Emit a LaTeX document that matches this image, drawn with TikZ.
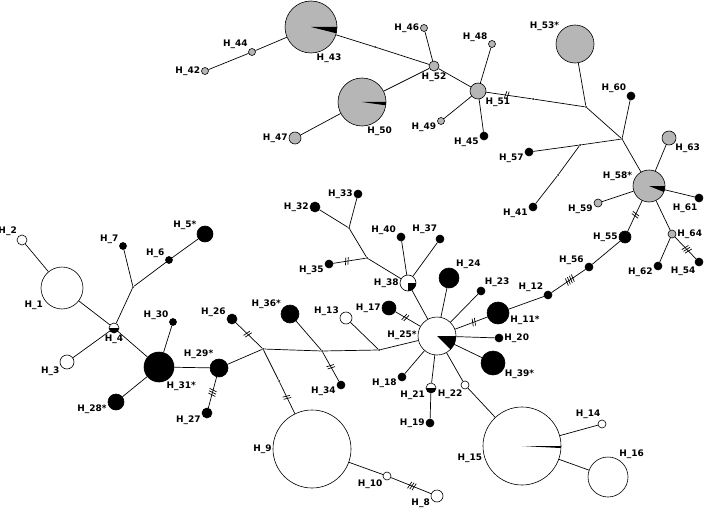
\documentclass[tikz,border=0pt]{standalone}
\usepackage{fontspec}
\setmainfont{DejaVu Sans}
\usetikzlibrary{positioning}

\definecolor{hapgrey}{RGB}{182,182,182}

\tikzset{
  hap/.style={circle, draw=black, line width=0.6pt, inner sep=0pt},
  rad/.style={minimum size=#1*2pt},
  hw/.style={hap, fill=white},
  hb/.style={hap, fill=black},
  hg/.style={hap, fill=hapgrey},
  mv/.style={circle, fill=black, inner sep=0pt, minimum size=2pt},
  lab/.style={font=\fontsize{9}{10.5}\selectfont\bfseries, inner sep=0.8pt},
  pie/.style 2 args={path picture={
    \fill[black] (path picture bounding box.center) -- ++(#1:45pt)
      arc[start angle=#1, end angle=#2, radius=45pt] -- cycle;}},
  cuts/.pic={
    \foreach \k in {1,...,#1}{
      \pgfmathsetmacro\dx{(\k-(#1+1)/2)*2.4}
      \draw[line width=0.7pt] ({(\dx-0.8)*1pt},-3.8pt) -- ({(\dx+0.8)*1pt},3.8pt);
    }
  }
}

\begin{document}
\begin{tikzpicture}[x=1pt, y=-1pt, line width=0.7pt, label distance=0pt]
\useasboundingbox (0,0) rectangle (709,508);

% left group
\node[hw, rad=21, label={[lab]213:H\_1}] (h1) at (62,288) {};
\node[hw, rad=5, label={[lab]140:H\_2}] (h2) at (22,240) {};
\node[hw, rad=7, label={[lab]207:H\_3}] (h3) at (67,362) {};
\node[hw, rad=5, pie={180}{360}, label={[lab]270:H\_4}] (h4) at (114,328) {};
\node[mv] (j1) at (133,287) {};
\node[hb, rad=3.5, label={[lab]155:H\_7}] (h7) at (123,246) {};
\node[hb, rad=3.5, label={[lab]155:H\_6}] (h6) at (169,260) {};
\node[hb, rad=8, label={[lab]155:H\_5*}] (h5) at (205,234) {};
\node[hb, rad=3.5, label={[lab]160:H\_30}] (h30) at (173,322) {};
\node[hb, rad=15, label={[lab]-65:H\_31*}] (h31) at (159,367) {};
\node[hb, rad=8, label={[lab]190:H\_28*}] (h28) at (116,402) {};
\node[hb, rad=9, label={[lab]120:H\_29*}] (h29) at (219,368) {};
\node[hb, rad=5, label={[lab]195:H\_27}] (h27) at (207,413) {};
\node[hb, rad=5, label={[lab]170:H\_26}] (h26) at (232,319) {};

% middle group
\node[mv] (jE) at (263,349) {};
\node[mv] (m1) at (279,381) {};
\node[mv] (jD) at (322,351) {};
\node[mv] (jC) at (379,350) {};
\node[mv] (jA) at (349,228) {};
\node[mv] (jB) at (367,258) {};
\node[hw, rad=39, label={[lab]180:H\_9}] (h9) at (312,449) {};
\node[hw, rad=4, label={[lab]215:H\_10}] (h10) at (387,476) {};
\node[hw, rad=6, label={[lab]195:H\_8}] (h8) at (437,496) {};
\node[hb, rad=9, label={[lab]150:H\_36*}] (h36) at (290,314) {};
\node[hb, rad=4, label={[lab]195:H\_34}] (h34) at (341,385) {};
\node[hw, rad=6, label={[lab]165:H\_13}] (h13) at (346,318) {};
\node[hb, rad=4, label={[lab]178:H\_33}] (h33) at (358,194) {};
\node[hb, rad=5, label={[lab]180:H\_32}] (h32) at (315,207) {};
\node[hb, rad=4, label={[lab]195:H\_35}] (h35) at (329,264) {};
\node[hw, rad=8, pie={-90}{0}, label={[lab]180:H\_38}] (h38) at (408,283) {};
\node[hb, rad=4, label={[lab]160:H\_40}] (h40) at (401,237) {};
\node[hb, rad=4, label={[lab]115:H\_37}] (h37) at (440,239) {};
\node[hw, rad=19, pie={-45}{0}, label={[lab]178:H\_25*}] (h25) at (437,336) {};
\node[hb, rad=10, label={[lab]55:H\_24}] (h24) at (449,278) {};
\node[hb, rad=4, label={[lab]50:H\_23}] (h23) at (481,291) {};
\node[hb, rad=11, label={[lab]-10:H\_11*}] (h11) at (498,313) {};
\node[hb, rad=4, label={[lab]150:H\_12}] (h12) at (548,295) {};
\node[hb, rad=7, label={[lab]180:H\_17}] (h17) at (389,308) {};
\node[hb, rad=4, label={[lab]0:H\_20}] (h20) at (499,338) {};
\node[hb, rad=12, label={[lab]-30:H\_39*}] (h39) at (493,363) {};
\node[hb, rad=4, label={[lab]190:H\_18}] (h18) at (402,377) {};
\node[hw, rad=5, pie={180}{360}, label={[lab]200:H\_21}] (h21) at (431,388) {};
\node[hb, rad=4, label={[lab]180:H\_19}] (h19) at (430,423) {};
\node[hw, rad=4, label={[lab]250:H\_22}] (h22) at (465,385) {};
\node[hw, rad=39, pie={-3}{0}, label={[lab]190:H\_15}] (h15) at (522,446) {};
\node[hw, rad=4, label={[lab]95:H\_14}] (h14) at (602,424) {};
\node[hw, rad=20, label={[lab]60:H\_16}] (h16) at (608,477) {};

% top group
\node[mv] (m4) at (375,47) {};
\node[mv] (m3) at (533,99) {};
\node[mv] (jF) at (586,107) {};
\node[mv] (jG) at (622,139) {};
\node[mv] (jH) at (580,145) {};
\node[mv] (m2) at (558,175) {};
\node[hg, rad=26, pie={-14}{0}, label={[lab]-80:H\_43}] (h43) at (311,27) {};
\node[hg, rad=3.5, label={[lab]147:H\_44}] (h44) at (252,52) {};
\node[hg, rad=3.5, label={[lab]180:H\_42}] (h42) at (205,71) {};
\node[hg, rad=5, label={[lab]270:H\_52}] (h52) at (434,66) {};
\node[hg, rad=3.5, label={[lab]180:H\_46}] (h46) at (424,28) {};
\node[hg, rad=24, pie={-8}{0}, label={[lab]-80:H\_50}] (h50) at (362,102) {};
\node[hg, rad=6, label={[lab]180:H\_47}] (h47) at (295,138) {};
\node[hg, rad=8, label={[lab]-40:H\_51}] (h51) at (478,91) {};
\node[hg, rad=3.5, label={[lab]155:H\_48}] (h48) at (492,44) {};
\node[hg, rad=3.5, label={[lab]185:H\_49}] (h49) at (441,121) {};
\node[hb, rad=4, label={[lab]195:H\_45}] (h45) at (484,136) {};
\node[hb, rad=4, label={[lab]195:H\_57}] (h57) at (529,152) {};
\node[hg, rad=19, label={[lab]140:H\_53*}] (h53) at (575,44) {};
\node[hb, rad=4, label={[lab]150:H\_60}] (h60) at (631,96) {};
\node[hb, rad=4, label={[lab]190:H\_41}] (h41) at (533,207) {};
\node[hg, rad=16, pie={-22}{0}, label={[lab]165:H\_58*}] (h58) at (649,186) {};
\node[hg, rad=7, label={[lab]-45:H\_63}] (h63) at (669,138) {};
\node[hb, rad=4, label={[lab]-95:H\_61}] (h61) at (699,198) {};
\node[hg, rad=4, label={[lab]185:H\_59}] (h59) at (598,203) {};
\node[hb, rad=6, label={[lab]180:H\_55}] (h55) at (625,237) {};
\node[hg, rad=4, label={[lab]0:H\_64}] (h64) at (672,234) {};
\node[hb, rad=4, label={[lab]195:H\_62}] (h62) at (658,266) {};
\node[hb, rad=4, label={[lab]235:H\_54}] (h54) at (699,262) {};
\node[hb, rad=4, label={[lab]170:H\_56}] (h56) at (589,267) {};

% links
\draw (h1) -- (h2);
\draw (h1) -- (h4);
\draw (h3) -- (h4);
\draw (h4) -- (j1);
\draw (j1) -- (h7);
\draw (j1) -- (h6);
\draw (h6) -- (h5);
\draw (h4) -- (h31);
\draw (h31) -- (h30);
\draw (h31) -- (h28);
\draw (h31) -- (h29);
\draw (h29) -- pic[pos=0.5, sloped]{cuts=3} (h27);
\draw (h29) -- (jE);
\draw (jE) -- pic[pos=0.55, sloped]{cuts=2} (h26);
\draw (jE) -- (m1);
\draw (m1) -- pic[pos=0.48, sloped]{cuts=2} (h9);
\draw (h9) -- (h10);
\draw (h10) -- pic[pos=0.52, sloped]{cuts=3} (h8);
\draw (jE) -- (jD);
\draw (jD) -- (h36);
\draw (jD) -- pic[pos=0.5, sloped]{cuts=2} (h34);
\draw (jD) -- (jC);
\draw (jC) -- (h13);
\draw (jC) -- (h25);
\draw (h25) -- pic[pos=0.6, sloped]{cuts=2} (h17);
\draw (h25) -- (h38);
\draw (h38) -- (jB);
\draw (jB) -- pic[pos=0.58, sloped]{cuts=2} (h35);
\draw (jB) -- (jA);
\draw (jA) -- (h32);
\draw (jA) -- (h33);
\draw (h38) -- (h40);
\draw (h38) -- (h37);
\draw (h25) -- (h24);
\draw (h25) -- (h23);
\draw (h25) -- pic[pos=0.58, sloped]{cuts=2} (h11);
\draw (h11) -- (h12);
\draw (h12) -- pic[pos=0.54, sloped]{cuts=4} (h56);
\draw (h56) -- (h55);
\draw (h55) -- pic[pos=0.54, sloped]{cuts=2} (h58);
\draw (h25) -- (h20);
\draw (h25) -- (h39);
\draw (h25) -- (h18);
\draw (h25) -- (h21);
\draw (h21) -- (h19);
\draw (h25) -- (h22);
\draw (h22) -- (h15);
\draw (h15) -- (h14);
\draw (h15) -- (h16);
\draw (h58) -- (jG);
\draw (jG) -- (h60);
\draw (jG) -- (jH);
\draw (jH) -- (h57);
\draw (jH) -- (m2);
\draw (m2) -- (h41);
\draw (jG) -- (jF);
\draw (jF) -- (h53);
\draw (jF) -- (m3);
\draw (m3) -- pic[pos=0.55, sloped]{cuts=2} (h51);
\draw (h51) -- (h52);
\draw (h51) -- (h48);
\draw (h51) -- (h49);
\draw (h51) -- (h45);
\draw (h52) -- (h46);
\draw (h52) -- (h50);
\draw (h52) -- (m4);
\draw (m4) -- (h43);
\draw (h50) -- (h47);
\draw (h43) -- (h44);
\draw (h44) -- (h42);
\draw (h58) -- (h63);
\draw (h58) -- (h61);
\draw (h58) -- (h59);
\draw (h58) -- (h64);
\draw (h64) -- (h62);
\draw (h64) -- pic[pos=0.56, sloped]{cuts=3} (h54);
\end{tikzpicture}
\end{document}
